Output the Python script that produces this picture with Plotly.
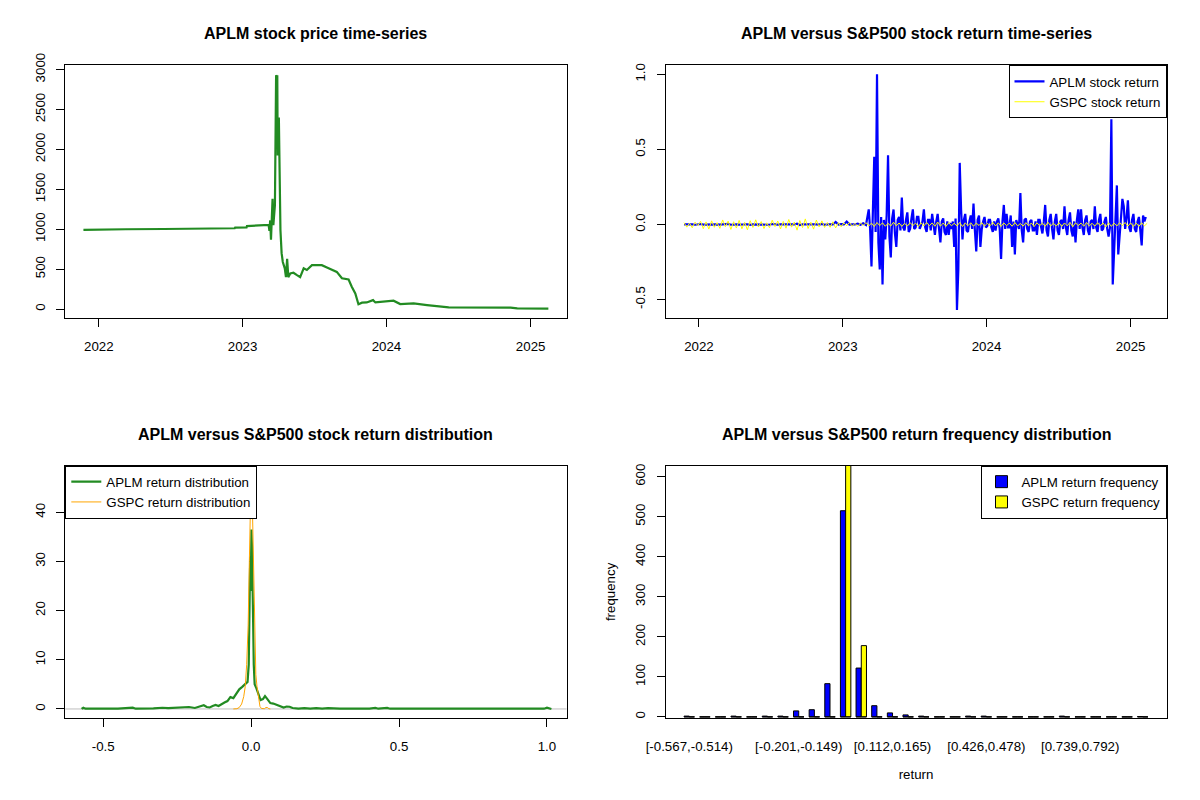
import pandas as pd
import plotly.graph_objects as go

FONT = "Liberation Sans, Arial, sans-serif"

# APLM price key points (date, close)
price_dates = [
    "2021-11-23", "2022-03-10", "2022-03-11", "2022-06-15", "2022-08-20", "2022-10-10",
    "2022-10-11", "2022-12-12", "2022-12-13", "2023-01-11", "2023-01-12", "2023-02-22",
    "2023-02-23", "2023-03-08", "2023-03-10", "2023-03-12", "2023-03-14", "2023-03-16",
    "2023-03-18", "2023-03-20", "2023-03-21", "2023-03-24", "2023-03-27", "2023-03-29",
    "2023-03-30", "2023-03-31", "2023-04-03", "2023-04-05", "2023-04-07", "2023-04-10",
    "2023-04-13", "2023-04-18", "2023-04-21", "2023-04-24", "2023-04-27", "2023-05-02",
    "2023-05-10", "2023-05-19", "2023-05-27", "2023-06-05", "2023-06-13", "2023-06-26",
    "2023-07-08", "2023-07-21", "2023-08-03", "2023-08-16", "2023-08-28", "2023-09-10",
    "2023-09-27", "2023-10-05", "2023-10-14", "2023-10-22", "2023-10-31", "2023-11-12",
    "2023-11-28", "2023-12-04", "2024-01-02", "2024-01-19", "2024-02-05", "2024-03-10",
    "2024-04-13", "2024-05-12", "2024-06-07", "2024-11-11", "2024-11-28", "2025-02-15",
]
price_values = [
    993, 993, 1000, 1003, 1006, 1005,
    1010, 1012, 1020, 1022, 1040, 1045,
    1052, 1055, 980, 1110, 870, 1250,
    1380, 1050, 1150, 1300, 2930, 2900,
    2930, 1925, 2400, 1195, 990, 700,
    590, 510, 400, 630, 400, 445,
    455, 425, 400, 510, 490, 550,
    550, 550, 520, 490, 465, 385,
    370, 280, 195, 60, 80, 83,
    112, 83, 92, 105, 62, 70,
    50, 37, 21, 17, 8, 4,
]

# APLM returns: weekly before the March 2023 jump, twice weekly after it
aplm_ret_early = [
    0.000, 0.002, -0.001, 0.001, -0.002, 0.000, 0.003, -0.001, 0.000, 0.001,
    -0.002, 0.001, 0.000, -0.001, 0.002, 0.000, 0.004, -0.002, 0.001, 0.000,
    -0.001, 0.002, 0.000, 0.001, -0.003, 0.001, 0.000, 0.002, -0.001, 0.000,
    0.001, -0.002, 0.003, 0.000, -0.001, 0.001, 0.000, 0.002, -0.002, 0.001,
    0.000, 0.005, -0.004, 0.001, 0.000, -0.001, 0.002, 0.000, 0.001, -0.001,
    0.004, -0.002, 0.000, 0.001, 0.000, 0.017, -0.001, 0.002, 0.000, 0.019,
    -0.001, 0.001, 0.000, 0.006, -0.002, 0.008, -0.003,
]
aplm_ret_late = [
    0.10, -0.03, -0.28, 0.12, 0.45, -0.05, 1.00, -0.12, -0.30, 0.05,
    -0.40, 0.03, -0.10, 0.06, 0.46, -0.08, -0.22, 0.04, 0.10, -0.06,
    -0.15, 0.03, 0.05, -0.04, 0.18, -0.02, -0.04, 0.03, 0.08, -0.05,
    -0.03, 0.04, 0.10, -0.03, -0.02, 0.05, 0.05, -0.03, -0.01, 0.02,
    0.10, -0.02, -0.05, 0.03, 0.03, -0.04, 0.07, -0.02, -0.07, 0.02,
    0.07, -0.03, -0.12, 0.02, 0.04, -0.05, -0.07, 0.02, -0.07, 0.01,
    -0.03, 0.02, -0.15, 0.04, -0.57, -0.30, 0.41, 0.10, -0.10, 0.03,
    0.07, -0.04, -0.05, 0.02, 0.06, -0.03, 0.14, -0.04, -0.18, 0.03,
    0.06, -0.15, -0.03, 0.02, 0.05, -0.02, -0.01, 0.03, 0.03, -0.02,
    -0.05, 0.02, -0.04, 0.02, 0.04, -0.03, -0.23, 0.02, 0.13, -0.03,
    0.07, -0.02, -0.02, 0.06, -0.15, 0.02, -0.20, 0.03, 0.00, -0.03,
    0.21, -0.04, -0.12, 0.03, 0.04, -0.03, -0.05, 0.02, 0.03, -0.04,
    -0.04, 0.02, -0.07, 0.03, 0.03, -0.03, -0.06, 0.02, 0.13, -0.04,
    -0.08, 0.03, 0.07, -0.03, -0.10, 0.02, 0.07, -0.04, -0.07, 0.02,
    0.03, -0.03, 0.12, -0.02, -0.07, 0.03, 0.08, -0.04, -0.08, 0.02,
    -0.12, 0.03, 0.10, -0.03, 0.10, -0.02, -0.07, 0.03, 0.06, -0.04,
    -0.07, 0.02, 0.03, -0.03, 0.12, -0.02, -0.05, 0.03, 0.07, -0.04,
    -0.03, 0.02, 0.05, -0.03, -0.08, -0.02, 0.70, -0.40, -0.17, 0.05,
    0.26, -0.20, -0.05, 0.03, 0.17, 0.12, -0.03, 0.04, 0.16, -0.02,
    -0.05, 0.03, 0.07, -0.03, -0.05, 0.02, 0.05, -0.04, -0.14, 0.06,
    0.02, 0.05,
]
# S&P500 weekly returns from 2021-11-24
gspc_ret = [
    0.012, -0.018, 0.009, -0.022, 0.015, -0.008,
    0.021, -0.028, 0.017, -0.031, 0.024, -0.019, 0.012, -0.026, 0.030, -0.015,
    0.022, -0.033, 0.018, -0.024, 0.027, -0.029, 0.014, -0.036, 0.025, -0.020,
    0.031, -0.017, 0.019, -0.027, 0.011, -0.022, 0.028, -0.014, 0.023, -0.030,
    0.020, -0.025, 0.033, -0.018, 0.016, -0.038, 0.026, -0.021, 0.037, -0.027,
    0.015, -0.031, 0.029, -0.016, 0.024, -0.020, 0.013, -0.019, 0.018, -0.023,
    0.012, -0.015,
    0.011, -0.009, 0.014, -0.012, 0.008, -0.013, 0.010, -0.007, 0.012, -0.010,
    0.009, -0.014, 0.013, -0.008, 0.011, -0.012, 0.007, -0.010, 0.015, -0.009,
    0.010, -0.013, 0.008, -0.011, 0.012, -0.007, 0.009, -0.015, 0.011, -0.010,
    0.014, -0.008, 0.010, -0.012, 0.016, -0.011, 0.009, -0.013, 0.012, -0.009,
    0.008, -0.010, 0.013, -0.014, 0.010, -0.008, 0.011, -0.012, 0.009, -0.007,
    0.012, -0.011, 0.008, -0.009, 0.014, -0.010, 0.011, -0.013, 0.010, -0.008,
    0.009, -0.012, 0.013, -0.010, 0.007, -0.011, 0.012, -0.009, 0.010, -0.014,
    0.011, -0.008, 0.009, -0.012, 0.015, -0.010, 0.008, -0.011, 0.012, -0.013,
    0.010, -0.009, 0.014, -0.016, 0.011, -0.008, 0.009, -0.012, 0.013, -0.010,
    0.008, -0.011, 0.012, -0.009, 0.010, -0.017, 0.011, -0.013, 0.009, -0.010,
    0.012, -0.008, 0.013, -0.011, 0.010, -0.014, 0.009, -0.012, 0.011, -0.010,
    0.008,
]

# kernel density estimates
aplm_dens_x = [
    -0.573, -0.567, -0.560, -0.50, -0.45, -0.40, -0.39, -0.33, -0.30, -0.28,
    -0.25, -0.23, -0.21, -0.19, -0.17, -0.16, -0.15, -0.14, -0.13, -0.12,
    -0.11, -0.10, -0.09, -0.08, -0.07, -0.06, -0.05, -0.04, -0.03, -0.02,
    -0.012, -0.008, -0.005, -0.003, -0.001, 0.001, 0.003, 0.005, 0.007, 0.009,
    0.012, 0.018, 0.025, 0.032, 0.040, 0.047, 0.055, 0.065, 0.075, 0.085,
    0.10, 0.11, 0.12, 0.13, 0.14, 0.16, 0.18, 0.20, 0.22, 0.24,
    0.26, 0.30, 0.40, 0.42, 0.43, 0.45, 0.46, 0.47, 0.60, 0.70,
    0.71, 0.99, 1.00, 1.015,
]
aplm_dens_y = [
    0.0, 0.25, 0.05, 0.05, 0.05, 0.25, 0.05, 0.1, 0.25, 0.15,
    0.2, 0.3, 0.4, 0.2, 0.5, 0.75, 0.4, 0.3, 0.6, 0.8,
    0.6, 1.0, 1.3, 1.6, 2.4, 2.2, 3.2, 4.0, 4.5, 5.0,
    5.5, 9.0, 21.0, 31.0, 24.0, 36.5, 33.0, 27.5, 17.0, 9.0,
    5.0, 4.2, 3.0, 1.8, 2.0, 2.6, 2.0, 1.2, 1.1, 0.9,
    0.5, 0.3, 0.5, 0.45, 0.2, 0.05, 0.15, 0.05, 0.15, 0.05,
    0.15, 0.05, 0.05, 0.2, 0.05, 0.2, 0.2, 0.05, 0.05, 0.2,
    0.05, 0.05, 0.25, 0.0,
]
gspc_dens_x = [
    -0.060, -0.048, -0.040, -0.032, -0.025, -0.020, -0.015, -0.010, -0.006, -0.003,
    0.000, 0.003, 0.006, 0.009, 0.012, 0.016, 0.020, 0.025, 0.030, 0.035,
    0.045, 0.050, 0.055, 0.060, 0.065,
]
gspc_dens_y = [
    0.0, 0.05, 0.3, 1.0, 2.5, 4.5, 9.0, 17.0, 30.0, 42.0,
    47.6, 45.0, 36.0, 24.0, 14.0, 7.0, 4.5, 2.0, 0.5, 0.1,
    0.05, 0.3, 0.3, 0.05, 0.0,
]

# return frequency table (30 bins)
bin_breaks = [
    "-0.567", "-0.514", "-0.462", "-0.41", "-0.358", "-0.305", "-0.253", "-0.201",
    "-0.149", "-0.097", "-0.045", "0.008", "0.06", "0.112", "0.165", "0.217",
    "0.269", "0.321", "0.374", "0.426", "0.478", "0.53", "0.582", "0.635",
    "0.687", "0.739", "0.792", "0.844", "0.896", "0.948", "1",
]
shown_bins = [0, 7, 13, 19, 25]
aplm_freq = [2, 0, 0, 2, 0, 2, 2, 15, 18, 83, 515, 122, 28, 10, 5,
             2, 0, 0, 2, 2, 0, 0, 0, 0, 2, 0, 0, 0, 0, 1]
gspc_freq = [0, 0, 0, 0, 0, 0, 0, 0, 0, 0, 635, 178, 0, 0, 0,
             0, 0, 0, 0, 0, 0, 0, 0, 0, 0, 0, 0, 0, 0, 0]

bin_labels = [f"[{bin_breaks[i]},{bin_breaks[i + 1]})" for i in range(len(aplm_freq))]
groups = list(range(len(aplm_freq)))

gspc_dates = pd.date_range("2021-11-24", periods=len(gspc_ret), freq="7D")
aplm_dates = list(pd.date_range("2021-11-24", periods=len(aplm_ret_early), freq="7D")) + \
    list(pd.date_range("2023-03-08", periods=len(aplm_ret_late), freq="84h"))
aplm_ret = aplm_ret_early + aplm_ret_late

fig = go.Figure()

# price (top left)
fig.add_trace(go.Scatter(
    x=price_dates, y=price_values, mode="lines", showlegend=False,
    line=dict(color="#228B22", width=2.2), xaxis="x", yaxis="y",
))

# returns (top right)
fig.add_trace(go.Scatter(
    x=aplm_dates, y=aplm_ret, mode="lines", name="APLM stock return",
    line=dict(color="#0000FF", width=2.2), xaxis="x2", yaxis="y2", legend="legend",
))
fig.add_trace(go.Scatter(
    x=gspc_dates, y=gspc_ret, mode="lines", name="GSPC stock return",
    line=dict(color="#FFFF00", width=1), xaxis="x2", yaxis="y2", legend="legend",
))

# densities (bottom left)
fig.add_trace(go.Scatter(
    x=aplm_dens_x, y=aplm_dens_y, mode="lines", name="APLM return distribution",
    line=dict(color="#228B22", width=2.2), xaxis="x3", yaxis="y3", legend="legend2",
))
fig.add_trace(go.Scatter(
    x=gspc_dens_x, y=gspc_dens_y, mode="lines", name="GSPC return distribution",
    line=dict(color="#FFA500", width=1), xaxis="x3", yaxis="y3", legend="legend2",
))

# frequency bars (bottom right), barplot(beside=TRUE) layout: group i spans [3i+1, 3i+3]
dash_x, dash_y = [], []
for i in groups:
    dash_x += [3 * i + 1, 3 * i + 3, None]
    dash_y += [0, 0, None]
fig.add_trace(go.Scatter(
    x=dash_x, y=dash_y, mode="lines", showlegend=False, hoverinfo="skip",
    line=dict(color="black", width=1), xaxis="x4", yaxis="y4",
))
fig.add_trace(go.Bar(
    x=[3 * i + 1.5 for i in groups], y=aplm_freq, width=1, name="APLM return frequency",
    marker=dict(color="#0000FF", line=dict(color="black", width=1)),
    customdata=bin_labels, hovertemplate="%{customdata}: %{y}<extra></extra>",
    xaxis="x4", yaxis="y4", legend="legend3",
))
fig.add_trace(go.Bar(
    x=[3 * i + 2.5 for i in groups], y=gspc_freq, width=1, name="GSPC return frequency",
    marker=dict(color="#FFFF00", line=dict(color="black", width=1)),
    customdata=bin_labels, hovertemplate="%{customdata}: %{y}<extra></extra>",
    xaxis="x4", yaxis="y4", legend="legend3",
))

# zero line under the density plot
fig.add_shape(type="line", xref="x3 domain", yref="y3", x0=0, x1=1, y0=0, y1=0,
              line=dict(color="#BEBEBE", width=1), layer="below")


# the page body adds an 8px margin, so pixel boxes are shifted by it
def fx(px):
    return (px - 8) / 1200


def fy(py):
    return 1 - (py - 8) / 800


left_dom = [fx(65.3), fx(566.5)]
right_dom = [fx(665.5), fx(1166.5)]
top_dom = [fy(318.3), fy(65.3)]
bottom_dom = [fy(718.3), fy(465.5)]

axis = dict(
    showline=True, linecolor="black", linewidth=1, mirror=True,
    ticks="outside", ticklen=8, tickcolor="black", tickwidth=1,
    showgrid=False, zeroline=False, automargin=False,
    tickfont=dict(family=FONT, size=13.3, color="black"),
)
yaxis_style = dict(axis, tickangle=-90, ticklabelstandoff=6)
xaxis_style = dict(axis, ticklabelstandoff=8)

year_ticks = ["2022-01-01", "2023-01-01", "2024-01-01", "2025-01-01"]
year_text = ["2022", "2023", "2024", "2025"]
legend_style = dict(bgcolor="white", bordercolor="black", borderwidth=1,
                    font=dict(family=FONT, size=13.3, color="black"))

fig.update_layout(
    width=1200, height=800,
    margin=dict(l=0, r=0, t=0, b=0),
    paper_bgcolor="white", plot_bgcolor="white",
    font=dict(family=FONT, size=13.3, color="black"),
    barmode="overlay",
    xaxis=dict(xaxis_style, domain=left_dom, anchor="y", type="date",
               range=["2021-10-08", "2025-04-02"], tickvals=year_ticks, ticktext=year_text),
    yaxis=dict(yaxis_style, domain=top_dom, anchor="x", range=[-116, 3054],
               tickvals=[0, 500, 1000, 1500, 2000, 2500, 3000]),
    xaxis2=dict(xaxis_style, domain=right_dom, anchor="y2", type="date",
                range=["2021-10-08", "2025-04-02"], tickvals=year_ticks, ticktext=year_text),
    yaxis2=dict(yaxis_style, domain=top_dom, anchor="x2", range=[-0.625, 1.06],
                tickvals=[-0.5, 0, 0.5, 1.0], ticktext=["-0.5", "0.0", "0.5", "1.0"]),
    xaxis3=dict(xaxis_style, domain=left_dom, anchor="y3", range=[-0.628, 1.066],
                tickvals=[-0.5, 0, 0.5, 1.0], ticktext=["-0.5", "0.0", "0.5", "1.0"]),
    yaxis3=dict(yaxis_style, domain=bottom_dom, anchor="x3", range=[-1.9, 49.5],
                tickvals=[0, 10, 20, 30, 40]),
    xaxis4=dict(xaxis_style, domain=right_dom, anchor="y4", range=[-2.56, 93.56],
                ticks="", tickvals=[3 * i + 2 for i in shown_bins],
                ticktext=[bin_labels[i] for i in shown_bins], ticklabelstandoff=16,
                title=dict(text="return", standoff=16,
                           font=dict(family=FONT, size=13.3, color="black"))),
    yaxis4=dict(yaxis_style, domain=bottom_dom, anchor="x4", range=[-3.5, 628],
                tickvals=[0, 100, 200, 300, 400, 500, 600],
                title=dict(text="frequency", standoff=14,
                           font=dict(family=FONT, size=13.3, color="black"))),
    legend=dict(legend_style, x=right_dom[1], xanchor="right", y=top_dom[1], yanchor="top"),
    legend2=dict(legend_style, x=left_dom[0], xanchor="left", y=bottom_dom[1], yanchor="top"),
    legend3=dict(legend_style, x=right_dom[1], xanchor="right", y=bottom_dom[1], yanchor="top"),
)

titles = [
    ("APLM stock price time-series", sum(left_dom) / 2, fy(34)),
    ("APLM versus S&P500 stock return time-series", sum(right_dom) / 2, fy(34)),
    ("APLM versus S&P500 stock return distribution", sum(left_dom) / 2, fy(434)),
    ("APLM versus S&P500 return frequency distribution", sum(right_dom) / 2, fy(434)),
]
for text, x, y in titles:
    fig.add_annotation(text=f"<b>{text}</b>", x=x, y=y, xref="paper", yref="paper",
                       xanchor="center", yanchor="middle", showarrow=False,
                       font=dict(family=FONT, size=16, color="black"))

fig.write_html("out.html")
